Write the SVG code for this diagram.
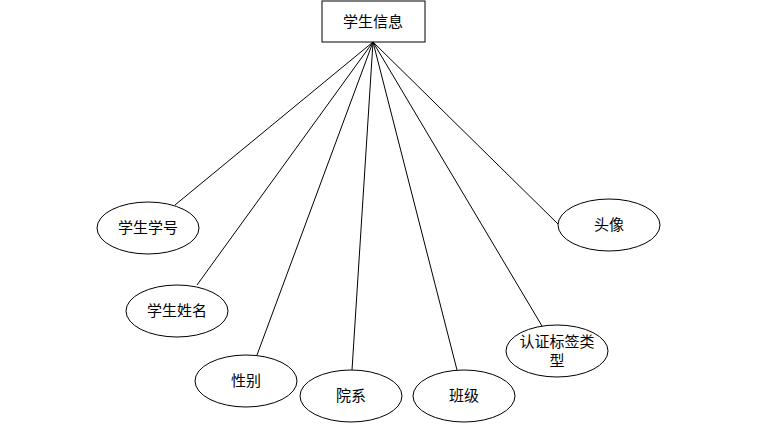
<svg xmlns="http://www.w3.org/2000/svg" width="767" height="440" viewBox="0 0 767 440">
<style>
.n{fill:#fff;stroke:#000;stroke-width:1}
.t{font-family:"Liberation Serif","Noto Sans CJK SC",serif;font-size:15px;fill:#000;text-anchor:middle;dominant-baseline:central}
.c line{stroke:#000;stroke-width:1}
</style>
<rect width="767" height="440" fill="#fff"/>
<g class="c" id="connectors">
<line x1="373" y1="42" x2="175" y2="205"/>
<line x1="373" y1="42" x2="197" y2="285"/>
<line x1="373" y1="42" x2="257" y2="355"/>
<line x1="373" y1="42" x2="352" y2="370"/>
<line x1="373" y1="42" x2="457" y2="370"/>
<line x1="373" y1="42" x2="542" y2="326"/>
<line x1="373" y1="42" x2="558" y2="224"/>
</g>
<g id="root"><rect class="n" x="322" y="1" width="103" height="41"/><text class="t" x="373" y="22">学生信息</text></g>
<g id="xh"><ellipse class="n" cx="148" cy="228" rx="51" ry="26"/><text class="t" x="148" y="228">学生学号</text></g>
<g id="xm"><ellipse class="n" cx="177" cy="311" rx="51" ry="26"/><text class="t" x="177" y="311">学生姓名</text></g>
<g id="xb"><ellipse class="n" cx="246" cy="381" rx="51" ry="26"/><text class="t" x="246" y="381">性别</text></g>
<g id="yx"><ellipse class="n" cx="351" cy="396" rx="51" ry="26"/><text class="t" x="351" y="396">院系</text></g>
<g id="bj"><ellipse class="n" cx="464" cy="396" rx="51" ry="26"/><text class="t" x="464" y="396">班级</text></g>
<g id="rz"><ellipse class="n" cx="557" cy="351" rx="51" ry="26"/><text class="t" x="557" y="342">认证标签类</text><text class="t" x="557" y="361">型</text></g>
<g id="tx"><ellipse class="n" cx="609" cy="225" rx="51" ry="26"/><text class="t" x="609" y="225">头像</text></g>
</svg>
